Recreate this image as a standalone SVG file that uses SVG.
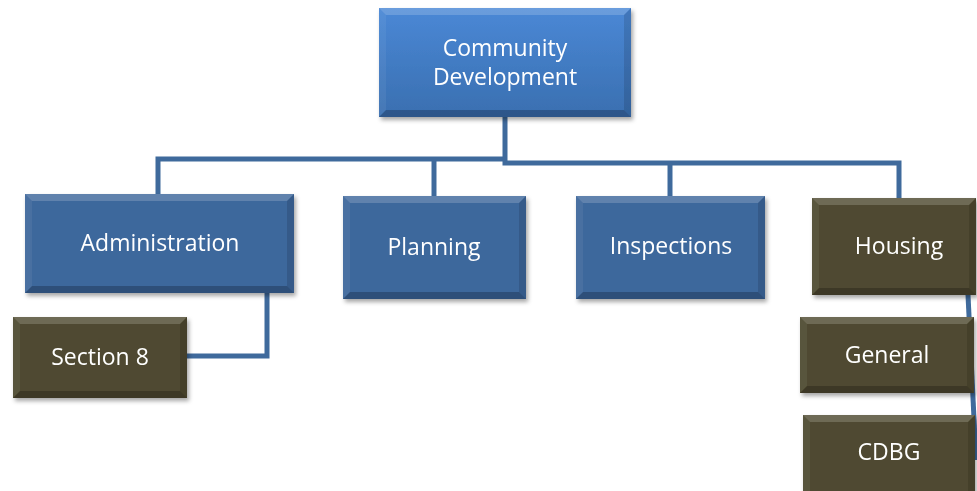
<svg xmlns="http://www.w3.org/2000/svg" width="977" height="491" viewBox="0 0 977 491">
<style>
.blue{fill:#3d679c}
.olive{fill:#4f4a30}
.hi{fill:#ffffff;fill-opacity:0.18}
.lo{fill:#000000;fill-opacity:0.22}
.lt{fill:#ffffff;fill-opacity:0.06}
.rt{fill:#000000;fill-opacity:0.12}
.lbl{font-family:"Open Sans","Liberation Sans",sans-serif;font-size:23px;fill:#ffffff;text-anchor:middle}
.conn{fill:none;stroke:#3f6a9c;stroke-width:5}
</style>
<defs>
<linearGradient id="gTop" x1="0" y1="0" x2="0" y2="1">
<stop offset="0" stop-color="#4a88d6"/>
<stop offset="1" stop-color="#3a6fb0"/>
</linearGradient>
<filter id="sh" x="-10%" y="-10%" width="120%" height="130%">
<feDropShadow dx="2" dy="3" stdDeviation="2" flood-color="#000" flood-opacity="0.35"/>
</filter>
</defs>
<g id="connectors">
<path class="conn" d="M505,159 H158 V194"/>
<path class="conn" d="M505,117 V163 H899 V198"/>
<path class="conn" d="M434,159 V196"/>
<path class="conn" d="M670,163 V196"/>
<path class="conn" d="M267,293 V356 H187"/>
<path class="conn" d="M968,295 L976,460"/>
</g>
<g id="community-development" filter="url(#sh)">
<rect x="379" y="8" width="252" height="109" fill="url(#gTop)"/>
<polygon class="hi" points="379,8 631,8 624,15 386,15"/>
<polygon class="lo" points="379,117 631,117 624,110 386,110"/>
<polygon class="lt" points="379,8 386,15 386,110 379,117"/>
<polygon class="rt" points="631,8 624,15 624,110 631,117"/>
<text class="lbl" x="505" y="56">Community</text>
<text class="lbl" x="505" y="85">Development</text>
</g>
<g id="administration" filter="url(#sh)">
<rect class="blue" x="25" y="194" width="269" height="99"/>
<polygon class="hi" points="25,194 294,194 287,201 32,201"/>
<polygon class="lo" points="25,293 294,293 287,286 32,286"/>
<polygon class="lt" points="25,194 32,201 32,286 25,293"/>
<polygon class="rt" points="294,194 287,201 287,286 294,293"/>
<text class="lbl" x="160" y="251">Administration</text>
</g>
<g id="section-8" filter="url(#sh)">
<rect class="olive" x="13" y="317" width="174" height="81"/>
<polygon class="hi" points="13,317 187,317 180,324 20,324"/>
<polygon class="lo" points="13,398 187,398 180,391 20,391"/>
<polygon class="lt" points="13,317 20,324 20,391 13,398"/>
<polygon class="rt" points="187,317 180,324 180,391 187,398"/>
<text class="lbl" x="100" y="365">Section 8</text>
</g>
<g id="planning" filter="url(#sh)">
<rect class="blue" x="343" y="196" width="183" height="103"/>
<polygon class="hi" points="343,196 526,196 519,203 350,203"/>
<polygon class="lo" points="343,299 526,299 519,292 350,292"/>
<polygon class="lt" points="343,196 350,203 350,292 343,299"/>
<polygon class="rt" points="526,196 519,203 519,292 526,299"/>
<text class="lbl" x="434" y="255">Planning</text>
</g>
<g id="inspections" filter="url(#sh)">
<rect class="blue" x="576" y="196" width="189" height="103"/>
<polygon class="hi" points="576,196 765,196 758,203 583,203"/>
<polygon class="lo" points="576,299 765,299 758,292 583,292"/>
<polygon class="lt" points="576,196 583,203 583,292 576,299"/>
<polygon class="rt" points="765,196 758,203 758,292 765,299"/>
<text class="lbl" x="671" y="254">Inspections</text>
</g>
<g id="housing" filter="url(#sh)">
<rect class="olive" x="812" y="198" width="164" height="97"/>
<polygon class="hi" points="812,198 976,198 969,205 819,205"/>
<polygon class="lo" points="812,295 976,295 969,288 819,288"/>
<polygon class="lt" points="812,198 819,205 819,288 812,295"/>
<polygon class="rt" points="976,198 969,205 969,288 976,295"/>
<text class="lbl" x="899" y="254">Housing</text>
</g>
<g id="general" filter="url(#sh)">
<rect class="olive" x="800" y="317" width="174" height="76"/>
<polygon class="hi" points="800,317 974,317 967,324 807,324"/>
<polygon class="lo" points="800,393 974,393 967,386 807,386"/>
<polygon class="lt" points="800,317 807,324 807,386 800,393"/>
<polygon class="rt" points="974,317 967,324 967,386 974,393"/>
<text class="lbl" x="887" y="363">General</text>
</g>
<g id="cdbg" filter="url(#sh)">
<rect class="olive" x="803" y="415" width="172" height="83"/>
<polygon class="hi" points="803,415 975,415 968,422 810,422"/>
<polygon class="lt" points="803,415 810,422 810,498 803,498"/>
<polygon class="rt" points="975,415 968,422 968,498 975,498"/>
<text class="lbl" x="889" y="460">CDBG</text>
</g>
</svg>
